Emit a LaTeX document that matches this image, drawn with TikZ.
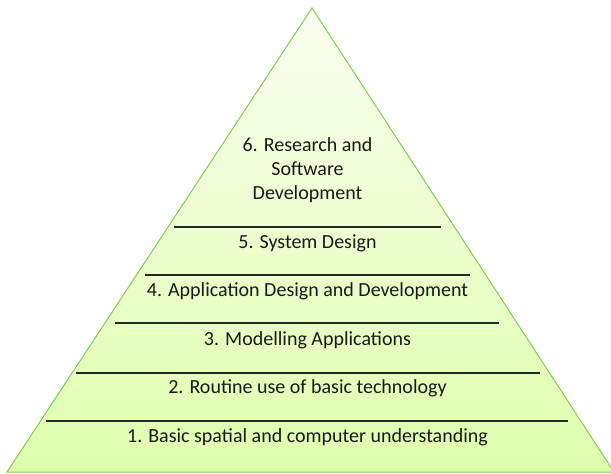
\documentclass[tikz,border=0pt]{standalone}
\usepackage{fontspec}
\setmainfont{Carlito}
\begin{document}
\begin{tikzpicture}[x=1pt,y=-1pt,
  level/.style={font=\fontsize{20}{24.4}\selectfont, text=black!90, anchor=base,
    align=center, inner sep=0pt},
  rule/.style={line width=1.7pt, draw=black!85},
  pyr/.style={draw=green!45!olive!70!white, line width=1pt, top color=green!8!lime!6!white,
    bottom color=green!20!lime!32!white}]
  \useasboundingbox (0,0) rectangle (611,474);

  % pyramid body
  \coordinate (apex) at (312,8);
  \coordinate (bl) at (7,472);
  \coordinate (br) at (614,472);
  \path[pyr] (apex) -- (br) -- (bl) -- cycle;

  % level labels
  \node[level] (l6a) at (307.5,151) {6. Research and};
  \node[level] (l6b) at (307.5,175) {Software};
  \node[level] (l6c) at (307.5,199) {Development};
  \node[level] (l5) at (307.5,248.5) {5. System Design};
  \node[level] (l4) at (307.5,296.7) {4. Application Design and Development};
  \node[level] (l3) at (307.5,345) {3. Modelling Applications};
  \node[level] (l2) at (307.5,393.3) {2. Routine use of basic technology};
  \node[level] (l1) at (307.5,442.7) {1. Basic spatial and computer understanding};

  % separators between levels
  \coordinate (s1a) at (174,227);   \coordinate (s1b) at (441,227);
  \coordinate (s2a) at (145,275.3); \coordinate (s2b) at (470,275.3);
  \coordinate (s3a) at (115,322.7); \coordinate (s3b) at (499,322.7);
  \coordinate (s4a) at (76,372.7);  \coordinate (s4b) at (540,372.7);
  \coordinate (s5a) at (46,420.7);  \coordinate (s5b) at (568,420.7);
  \foreach \s in {s1,s2,s3,s4,s5}
    \draw[rule] (\s a) -- (\s b);
\end{tikzpicture}
\end{document}
